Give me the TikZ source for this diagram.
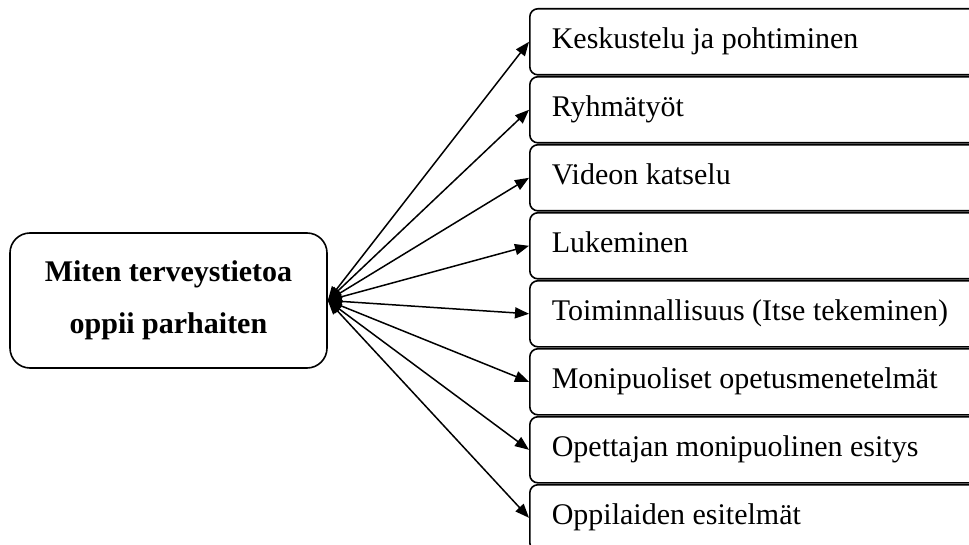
\documentclass[tikz,border=0pt]{standalone}
\usepackage{fontspec}
\setmainfont{Liberation Serif}
\usetikzlibrary{arrows.meta}
\begin{document}
\begin{tikzpicture}[x=1pt,y=-1pt,
  item/.style={draw, line width=1.6pt, rounded corners=8pt, anchor=north west,
    minimum width=470pt, minimum height=66pt, text width=426pt, inner xsep=22pt,
    inner ysep=0pt, align=flush left, font=\fontsize{30}{36}\selectfont,
    text height=21pt, text depth=7pt},
  hubbox/.style={draw, line width=1.6pt, rounded corners=20pt, minimum width=317pt,
    minimum height=135pt, align=center, font=\fontsize{30}{52}\selectfont\bfseries},
  conn/.style={line width=1.5pt,
    {Triangle[length=14pt,width=11pt]}-{Triangle[length=14pt,width=11pt]}}]
\useasboundingbox (0,0) rectangle (969,545);
\clip (0,0) rectangle (969,545);
\node[hubbox] (L) at (168.5,300.5) {Miten terveystietoa\\oppii parhaiten};
\node[item] (b1) at (529,8) {Keskustelu ja pohtiminen};
\node[item] (b2) at (529,76) {Ryhmätyöt};
\node[item] (b3) at (529,144) {Videon katselu};
\node[item] (b4) at (529,212) {Lukeminen};
\node[item] (b5) at (529,280) {Toiminnallisuus (Itse tekeminen)};
\node[item] (b6) at (529,348) {Monipuoliset opetusmenetelmät};
\node[item] (b7) at (529,416) {Opettajan monipuolinen esitys};
\node[item] (b8) at (529,484) {Oppilaiden esitelmät};
\foreach \i in {1,...,8} {
  \draw[conn] (L.east) -- (b\i.west);
}
\end{tikzpicture}
\end{document}
